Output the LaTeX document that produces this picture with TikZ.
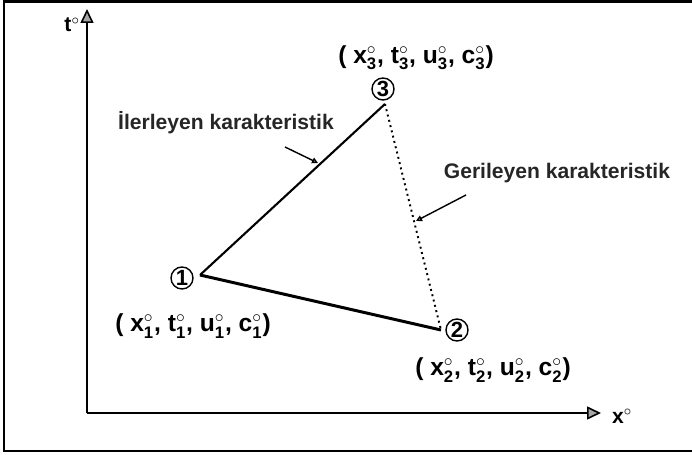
\documentclass[tikz,border=0pt]{standalone}
\usepackage{fontspec}
\setsansfont{Liberation Sans}
\usetikzlibrary{arrows.meta}
% point value with subscript index and circle mark
\newcommand{\qv}[2]{#1$_{\mbox{\fontsize{9.5}{9.5}\selectfont #2}}^{\circ}$}
\begin{document}
\begin{tikzpicture}[x=0.02cm, y=-0.02cm,
    lbl/.style={font=\sffamily\bfseries\fontsize{12}{14}\selectfont, inner sep=0, text=black!85},
    ptlbl/.style={font=\sffamily\bfseries\fontsize{14}{16}\selectfont, inner sep=0},
    ptnum/.style={circle, draw, line width=0.8pt, inner sep=0, minimum size=0.44cm, font=\sffamily\bfseries\fontsize{12.5}{12.5}\selectfont},
    axis/.style={line width=0.9pt, -{Triangle[length=0.28cm, width=0.26cm, open, fill=black!35]}},
    note/.style={line width=0.8pt, -{Triangle[length=0.12cm, width=0.12cm, open, fill=black!20]}}]
  \useasboundingbox (0,0) rectangle (692,455);
  % frame (left, top, bottom)
  \draw[line width=1.7pt] (694,1.5) -- (4,1.5) -- (4,451) -- (694,451);
  % axes
  \coordinate (o) at (87,413);
  \coordinate (ytip) at (87,9);
  \coordinate (xtip) at (601,413);
  \draw[axis] (o) -- (ytip);
  \draw[axis] (o) -- (xtip);
  \draw (68,25) node[lbl, text=black] (tlab) {t\rlap{$^{\circ}$}};
  \draw (618,416) node[lbl, text=black] (xlab) {x\rlap{$^{\circ}$}};
  % vertices
  \coordinate (v1) at (200,275);
  \coordinate (v2) at (441,330);
  \coordinate (v3) at (385,104);
  \draw[line width=1.2pt] (v1) -- (v3);
  \draw[line width=1.7pt] (v1) -- (v2);
  \draw[line width=1.1pt, dotted] (v3) -- (v2);
  \draw (182,278) node[ptnum] (n1) {1};
  \draw (457,330) node[ptnum] (n2) {2};
  \draw (383,89) node[ptnum] (n3) {3};
  \draw (193,326) node[ptlbl] (p1) {( \qv{x}{1}, \qv{t}{1}, \qv{u}{1}, \qv{c}{1})};
  \draw (493,370) node[ptlbl] (p2) {( \qv{x}{2}, \qv{t}{2}, \qv{u}{2}, \qv{c}{2})};
  \draw (416,58) node[ptlbl] (p3) {( \qv{x}{3}, \qv{t}{3}, \qv{u}{3}, \qv{c}{3})};
  % characteristics
  \draw (226,123) node[lbl] (ilr) {İlerleyen karakteristik};
  \draw (557,173) node[lbl] (grl) {Gerileyen karakteristik};
  \coordinate (a1s) at (285,147);
  \coordinate (a1e) at (318,163);
  \coordinate (a2s) at (466,195);
  \coordinate (a2e) at (416,221);
  \draw[note] (a1s) -- (a1e);
  \draw[note] (a2s) -- (a2e);
\end{tikzpicture}
\end{document}
